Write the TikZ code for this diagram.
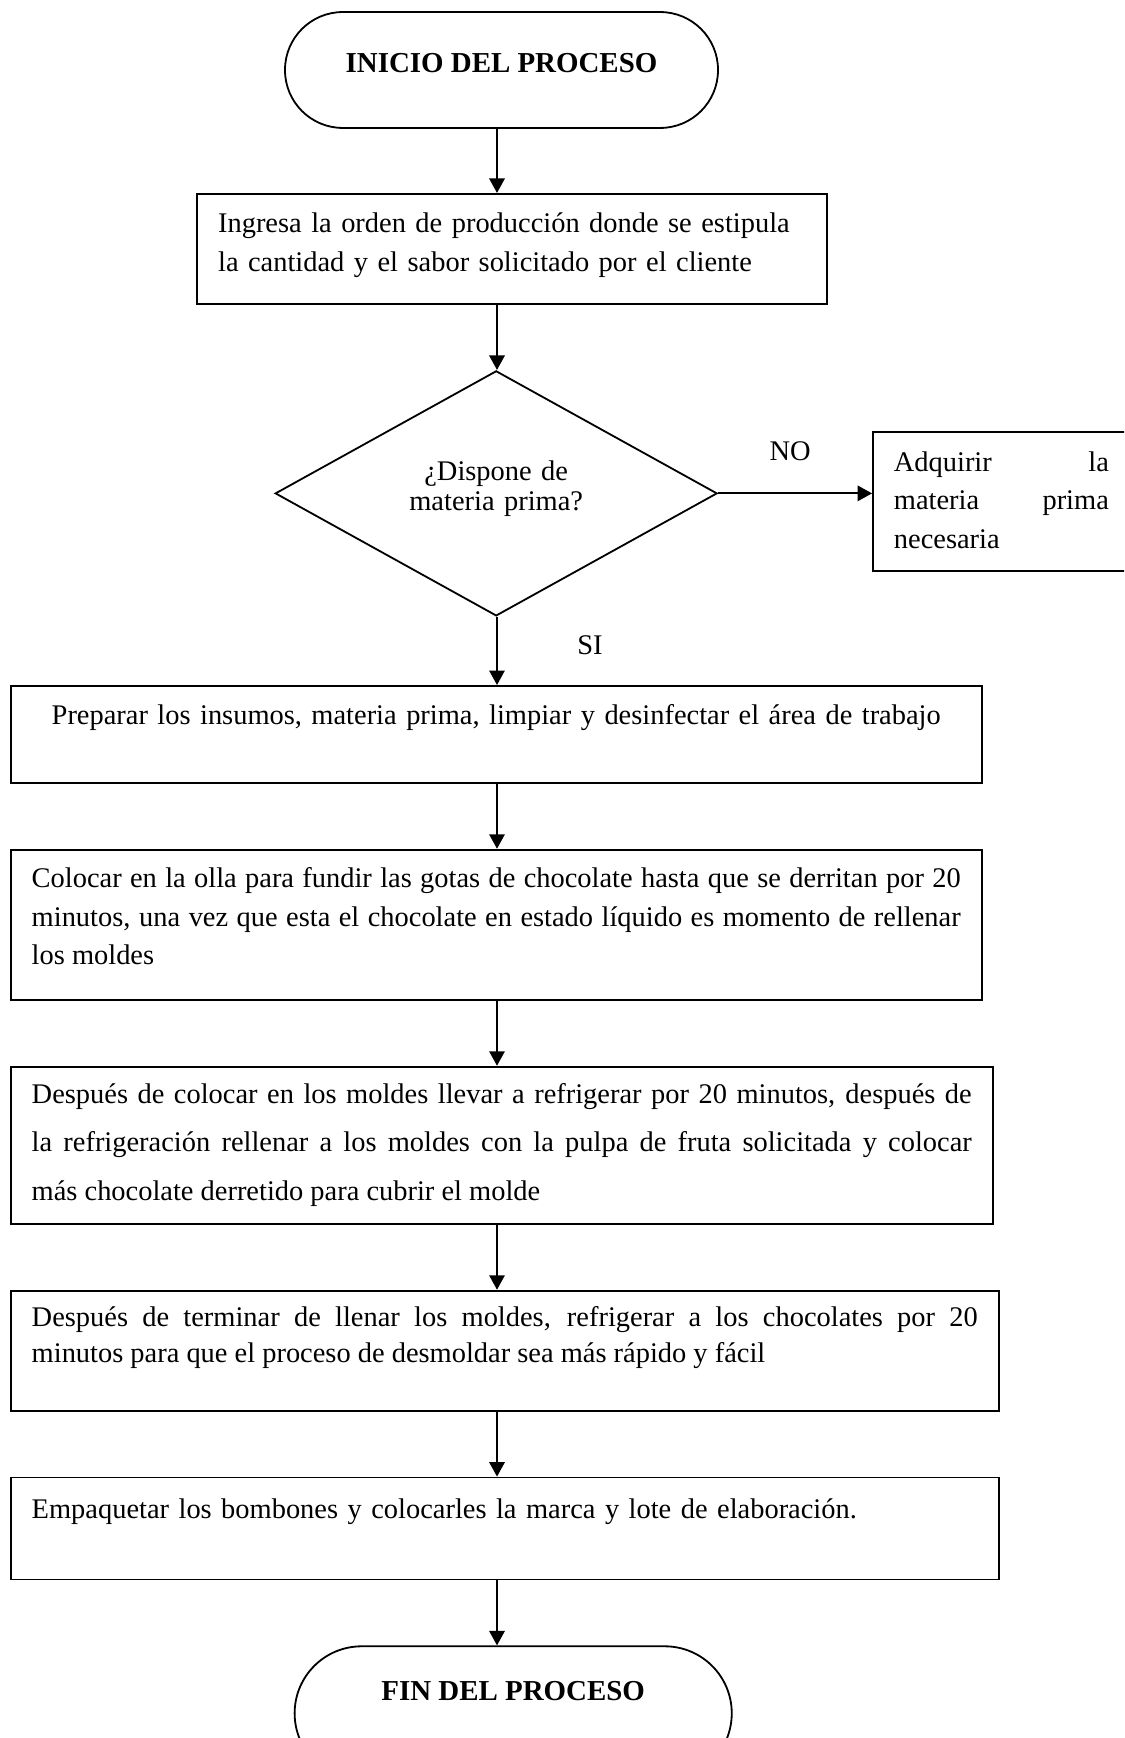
\documentclass[tikz,border=0pt]{standalone}
\usepackage{fontspec}
\setmainfont{Liberation Serif}
\usetikzlibrary{shapes.geometric, arrows.meta, positioning}
\hyphenpenalty=10000
\exhyphenpenalty=10000
\tolerance=9999

\begin{document}
\begin{tikzpicture}[
    x=0.415pt, y=-0.415pt,
    node distance=27pt,
    terminal/.style={
      rectangle,
      rounded corners=24pt,
      draw,
      line width=0.75pt,
      minimum width=179.7pt,
      minimum height=48.1pt,
      font=\fontsize{12}{14}\selectfont\bfseries
    },
    box/.style={
      rectangle,
      draw,
      line width=0.75pt,
      inner xsep=8.7pt,
      inner ysep=0pt,
      align=justify,
      font=\fontsize{11.8}{16}\selectfont
    },
    decision/.style={
      diamond,
      draw,
      line width=0.75pt,
      aspect=1.8,
      inner sep=0pt,
      minimum width=183.4pt,
      minimum height=101.7pt,
      align=center,
      font=\fontsize{11.8}{12.5}\selectfont
    },
    lbl/.style={
      inner sep=0pt,
      font=\fontsize{11.8}{14}\selectfont
    },
    arrow/.style={
      -{Triangle[width=6.4pt,length=6pt]},
      line width=0.75pt
    }
  ]

  \useasboundingbox (0,0) rectangle (1124,1738);
  \clip (0,0) rectangle (1124,1738);
  \coordinate (axis) at (497,0);

  % Nodos
  \node[terminal, text height=8pt, text depth=6.3pt] (inicio) at (501.5,70) {INICIO DEL PROCESO};
  \node[box, align=left, text width=244pt, text height=16.2pt, text depth=29.5pt,
        below=26.6pt of inicio, xshift=4.4pt] (orden)
    {Ingresa la orden de producción donde se estipula\\la cantidad y el sabor solicitado por el cliente};
  \node[decision, text width=80pt, text height=8pt, text depth=18.8pt,
        below=27pt of orden, xshift=-6.6pt] (dispone) {¿Dispone de\\materia prima?};
  \node[box, text width=89.2pt, text height=16.2pt, text depth=41.5pt,
        right=63.9pt of dispone, yshift=-3.5pt] (adquirir)
    {Adquirir la\linebreak materia prima\linebreak necesaria};
  \node[box, align=center, text width=385.5pt, text height=16pt, text depth=24.2pt,
        below=28.3pt of dispone] (preparar)
    {Preparar los insumos, materia prima, limpiar y desinfectar el área de trabajo};
  \node[box, text width=385.5pt, text height=15.8pt, text depth=46.5pt,
        below right=27pt and 0pt of preparar.south west] (fundir)
    {Colocar en la olla para fundir las gotas de chocolate hasta que se derritan por 20\linebreak
     minutos, una vez que esta el chocolate en estado líquido es momento de rellenar\linebreak
     los moldes};
  \node[box, text width=390.1pt, text height=15.4pt, text depth=49.8pt,
        font=\fontsize{11.8}{20}\selectfont,
        below right=27pt and 0pt of fundir.south west] (rellenar)
    {Después de colocar en los moldes llevar a refrigerar por 20 minutos, después de\linebreak
     la refrigeración rellenar a los moldes con la pulpa de fruta solicitada y colocar\linebreak
     más chocolate derretido para cubrir el molde};
  \node[box, text width=392.6pt, text height=14.8pt, text depth=35pt,
        font=\fontsize{11.8}{15}\selectfont,
        below right=27pt and 0pt of rellenar.south west] (refrigerar)
    {Después de terminar de llenar los moldes, refrigerar a los chocolates por 20\linebreak
     minutos para que el proceso de desmoldar sea más rápido y fácil};
  \node[box, align=left, text width=392.6pt, text height=17pt, text depth=25.3pt,
        below right=27pt and 0pt of refrigerar.south west] (empaquetar)
    {Empaquetar los bombones y colocarles la marca y lote de elaboración.};
  \node[terminal, minimum width=181.4pt, minimum height=55.6pt, rounded corners=27.8pt,
        text height=8pt, text depth=18.8pt,
        below=27pt of empaquetar, xshift=3.5pt] (fin) {FIN DEL PROCESO};

  % Flechas
  \draw[arrow] (inicio.south -| axis) -- (orden.north -| axis);
  \draw[arrow] (orden.south -| axis) -- (dispone.north -| axis);
  \draw[arrow] (dispone.east) -- node[lbl, midway, above=13.3pt, xshift=-2pt] {NO} (dispone.east -| adquirir.west);
  \draw[arrow] (dispone.south -| axis) -- node[lbl, pos=0.42, right=33pt] {SI} (preparar.north -| axis);
  \draw[arrow] (preparar.south -| axis) -- (fundir.north -| axis);
  \draw[arrow] (fundir.south -| axis) -- (rellenar.north -| axis);
  \draw[arrow] (rellenar.south -| axis) -- (refrigerar.north -| axis);
  \draw[arrow] (refrigerar.south -| axis) -- (empaquetar.north -| axis);
  \draw[arrow] (empaquetar.south -| axis) -- (fin.north -| axis);

\end{tikzpicture}
\end{document}
